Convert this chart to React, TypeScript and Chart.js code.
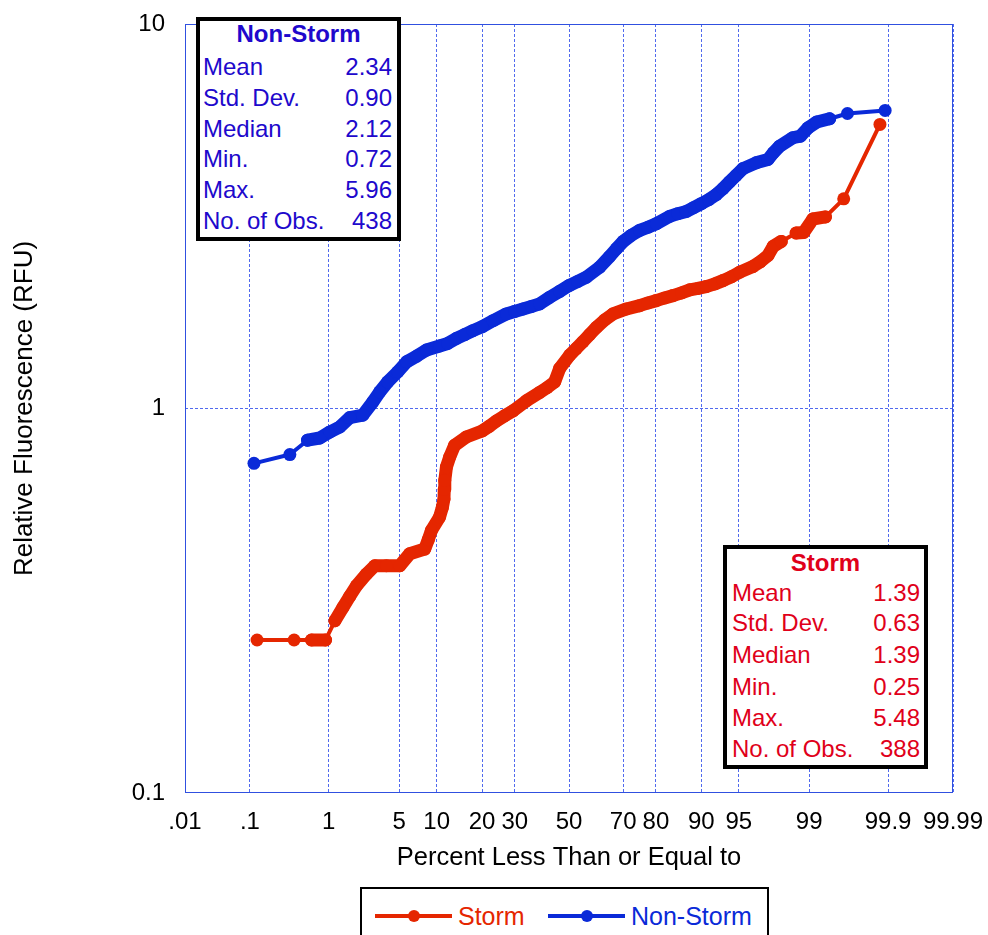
import React, { useEffect, useRef } from "react";
import { Chart, registerables } from "chart.js";

Chart.register(...registerables);

// ---------- data ----------
const X_TICK_PCTS = [0.01, 0.1, 1, 5, 10, 20, 30, 50, 70, 80, 90, 95, 99, 99.9, 99.99];
const X_TICK_LABELS = [".01", ".1", "1", "5", "10", "20", "30", "50", "70", "80", "90", "95", "99", "99.9", "99.99"];
const Y_TICKS = [0.1, 1, 10];
const Y_TICK_LABELS = ["0.1", "1", "10"];

const STORM_PCT = [0.126, 0.388, 0.632, 0.919, 1.17, 1.43, 1.69, 1.98, 2.49, 3.0, 3.85, 5.06, 6.15, 8.12, 8.65, 9.14, 10.5, 11.0, 11.3, 11.35, 11.45, 11.76, 12.4, 13.4, 16.0, 20.0, 22.0, 24.1, 26.7, 29.4, 34.0, 38.8, 41.6, 44.5, 46.4, 50.3, 52.8, 55.4, 57.9, 60.5, 63.5, 66.5, 71.1, 75.3, 77.8, 80.1, 82.3, 84.3, 86.2, 87.9, 89.4, 90.8, 92.1, 93.2, 94.2, 95.1, 96.25, 96.8, 97.3, 97.6, 98.01, 98.61, 98.85, 99.09, 99.35, 99.61, 99.87];
const STORM_VAL = [0.25, 0.25, 0.25, 0.25, 0.2805, 0.304, 0.325, 0.346, 0.371, 0.39, 0.39, 0.39, 0.419, 0.431, 0.456, 0.482, 0.522, 0.553, 0.582, 0.616, 0.65, 0.704, 0.748, 0.802, 0.843, 0.874, 0.899, 0.928, 0.958, 0.986, 1.047, 1.101, 1.133, 1.173, 1.271, 1.377, 1.432, 1.492, 1.557, 1.626, 1.699, 1.762, 1.815, 1.851, 1.882, 1.908, 1.939, 1.966, 1.998, 2.035, 2.053, 2.075, 2.109, 2.151, 2.2, 2.263, 2.34, 2.407, 2.5, 2.64, 2.72, 2.86, 2.87, 3.11, 3.15, 3.51, 5.48];

const NONSTORM_PCT = [0.114, 0.343, 0.567, 0.79, 1.03, 1.32, 1.69, 2.29, 2.87, 3.34, 3.96, 4.87, 5.81, 7.02, 8.38, 10.5, 12.0, 13.8, 15.6, 17.6, 20.0, 23.1, 27.2, 29.9, 32.8, 35.8, 38.8, 42.6, 46.4, 50.0, 53.4, 56.7, 61.7, 65.3, 67.7, 70.0, 72.7, 75.3, 77.8, 80.1, 83.5, 85.4, 87.2, 88.6, 90.0, 91.2, 92.3, 93.2, 94.0, 94.7, 95.4, 96.5, 97.3, 97.6, 97.93, 98.49, 98.75, 98.97, 99.18, 99.42, 99.65, 99.89];
const NONSTORM_VAL = [0.72, 0.759, 0.827, 0.838, 0.869, 0.895, 0.947, 0.961, 1.04, 1.105, 1.173, 1.246, 1.323, 1.369, 1.419, 1.454, 1.476, 1.522, 1.557, 1.594, 1.632, 1.692, 1.762, 1.788, 1.815, 1.843, 1.871, 1.947, 2.017, 2.088, 2.141, 2.196, 2.332, 2.485, 2.603, 2.719, 2.822, 2.905, 2.961, 3.024, 3.159, 3.211, 3.255, 3.329, 3.41, 3.493, 3.6, 3.731, 3.885, 4.034, 4.207, 4.354, 4.442, 4.618, 4.81, 5.06, 5.108, 5.37, 5.56, 5.67, 5.85, 5.96];

const STAT_LABELS = ["Mean", "Std. Dev.", "Median", "Min.", "Max.", "No. of Obs."];
const NONSTORM_STATS = ["2.34", "0.90", "2.12", "0.72", "5.96", "438"];
const STORM_STATS = ["1.39", "0.63", "1.39", "0.25", "5.48", "388"];

// ---------- styling ----------
const FONT = '"Liberation Sans", Arial, Helvetica, sans-serif';
const RED = "#e52600";
const BLUE = "#0a2ad8";
const RED_TEXT = "#e0001a";
const BLUE_TEXT = "#2008cc";
const GRID = "rgba(50,80,235,0.85)";
const FRAME = "#3050e0";
const CLEAR = "rgba(0,0,0,0)";

// inverse standard normal CDF (Acklam), percent -> z
function probit(pct: number): number {
  const p = pct / 100;
  const a = [-3.969683028665376e1, 2.209460984245205e2, -2.759285104469687e2, 1.38357751867269e2, -3.066479806614716e1, 2.506628277459239];
  const b = [-5.447609879822406e1, 1.615858368580409e2, -1.556989798598866e2, 6.680131188771972e1, -1.328068155288572e1];
  const c = [-7.784894002430293e-3, -3.223964580411365e-1, -2.400758277161838, -2.549732539343734, 4.374664141464968, 2.938163982698783];
  const d = [7.784695709041462e-3, 3.224671290700398e-1, 2.445134137142996, 3.754408661907416];
  const plow = 0.02425;
  if (p < plow) {
    const q = Math.sqrt(-2 * Math.log(p));
    return (((((c[0] * q + c[1]) * q + c[2]) * q + c[3]) * q + c[4]) * q + c[5]) / ((((d[0] * q + d[1]) * q + d[2]) * q + d[3]) * q + 1);
  }
  if (p > 1 - plow) {
    const q = Math.sqrt(-2 * Math.log(1 - p));
    return -(((((c[0] * q + c[1]) * q + c[2]) * q + c[3]) * q + c[4]) * q + c[5]) / ((((d[0] * q + d[1]) * q + d[2]) * q + d[3]) * q + 1);
  }
  const q = p - 0.5;
  const r = q * q;
  return ((((((a[0] * r + a[1]) * r + a[2]) * r + a[3]) * r + a[4]) * r + a[5]) * q) / (((((b[0] * r + b[1]) * r + b[2]) * r + b[3]) * r + b[4]) * r + 1);
}

const toPoints = (pcts: number[], vals: number[]) => pcts.map((p, i) => ({ x: probit(p), y: vals[i] }));

const segWidth = (ctx: any) => {
  const dx = ctx.p1.x - ctx.p0.x;
  const dy = ctx.p1.y - ctx.p0.y;
  return Math.sqrt(dx * dx + dy * dy) < 17 ? 13 : 4;
};

const zeroPadding = (s: any) => {
  s.paddingLeft = 0;
  s.paddingRight = 0;
  s.paddingTop = 0;
  s.paddingBottom = 0;
};

const framePlugin = {
  id: "frame",
  beforeDatasetsDraw(chart: any) {
    const { ctx, chartArea } = chart;
    ctx.save();
    ctx.strokeStyle = FRAME;
    ctx.lineWidth = 1;
    ctx.setLineDash([]);
    ctx.strokeRect(Math.round(chartArea.left) + 0.5, Math.round(chartArea.top) + 0.5, Math.round(chartArea.right - chartArea.left) - 1, Math.round(chartArea.bottom - chartArea.top) - 1);
    ctx.restore();
  },
};

function StatBox(props: { left: number; top: number; title: string; values: string[]; color: string; titleOffset: number; rowCenters: number[]; padL: number; padR: number }) {
  const { left, top, title, values, color, titleOffset, rowCenters, padL, padR } = props;
  return (
    <div
      style={{
        position: "absolute",
        left,
        top,
        width: 205,
        height: 224,
        boxSizing: "border-box",
        border: "4px solid #000",
        background: "#fff",
        fontFamily: FONT,
        fontSize: 24,
        color,
      }}
    >
      <div style={{ position: "absolute", left: 0, right: 0, top: titleOffset - 15, lineHeight: "30px", textAlign: "center", fontWeight: "bold" }}>{title}</div>
      {STAT_LABELS.map((lab, i) => (
        <div key={lab} style={{ position: "absolute", left: padL, right: padR, top: rowCenters[i] - 15, lineHeight: "30px", display: "flex", justifyContent: "space-between", whiteSpace: "nowrap" }}>
          <span>{lab}</span>
          <span>{values[i]}</span>
        </div>
      ))}
    </div>
  );
}

function LegendItem(props: { color: string; label: string; left: number }) {
  const { color, label, left } = props;
  return (
    <div style={{ position: "absolute", left, top: 0, height: 54, display: "flex", alignItems: "center" }}>
      <div style={{ position: "relative", width: 77, height: 4, background: color }}>
        <div style={{ position: "absolute", left: 33, top: -4, width: 12, height: 12, borderRadius: 6, background: color }} />
      </div>
      <span style={{ marginLeft: 6, fontFamily: FONT, fontSize: 25, color, whiteSpace: "nowrap" }}>{label}</span>
    </div>
  );
}

export default function App() {
  const canvasRef = useRef<HTMLCanvasElement | null>(null);

  useEffect(() => {
    const canvas = canvasRef.current;
    if (!canvas) return;
    const tickFont = { family: FONT, size: 24 };
    const chart = new Chart(canvas, {
      type: "line",
      data: {
        datasets: [
          {
            label: "Storm",
            data: toPoints(STORM_PCT, STORM_VAL),
            borderColor: RED,
            backgroundColor: RED,
            pointBackgroundColor: RED,
            pointBorderWidth: 0,
            pointRadius: 6.5,
            borderWidth: 4,
            borderCapStyle: "round",
            borderJoinStyle: "round",
            segment: { borderWidth: segWidth },
          },
          {
            label: "Non-Storm",
            data: toPoints(NONSTORM_PCT, NONSTORM_VAL),
            borderColor: BLUE,
            backgroundColor: BLUE,
            pointBackgroundColor: BLUE,
            pointBorderWidth: 0,
            pointRadius: 6.5,
            borderWidth: 4,
            borderCapStyle: "round",
            borderJoinStyle: "round",
            segment: { borderWidth: segWidth },
          },
        ],
      },
      options: {
        animation: false,
        responsive: false,
        layout: { padding: { top: 24, right: 35, left: 0, bottom: 0 } },
        plugins: { legend: { display: false }, tooltip: { enabled: false } },
        scales: {
          x: {
            type: "linear",
            min: probit(X_TICK_PCTS[0]),
            max: probit(X_TICK_PCTS[X_TICK_PCTS.length - 1]),
            afterBuildTicks: (s: any) => {
              s.ticks = X_TICK_PCTS.map((p) => ({ value: probit(p) }));
            },
            afterFit: (s: any) => {
              s.height = 142;
              zeroPadding(s);
            },
            ticks: {
              autoSkip: false,
              maxRotation: 0,
              minRotation: 0,
              padding: 0,
              font: tickFont,
              color: "#000",
              callback: (_v: any, i: number) => X_TICK_LABELS[i],
            },
            grid: { color: GRID, lineWidth: 1, drawTicks: true, tickLength: 15, tickColor: CLEAR },
            border: { display: false, dash: [3, 2] },
            title: {
              display: true,
              text: "Percent Less Than or Equal to",
              font: { family: FONT, size: 25.5 },
              color: "#000",
              padding: { top: 0, bottom: 62 },
            },
          },
          y: {
            type: "logarithmic",
            min: 0.1,
            max: 10,
            afterBuildTicks: (s: any) => {
              s.ticks = Y_TICKS.map((v) => ({ value: v }));
            },
            afterFit: (s: any) => {
              s.width = 185;
              zeroPadding(s);
            },
            ticks: {
              padding: 0,
              font: tickFont,
              color: "#000",
              callback: (v: any) => Y_TICK_LABELS[Y_TICKS.indexOf(Number(v))] ?? "",
            },
            grid: {
              color: (ctx: any) => (ctx.tick && ctx.tick.value === 1 ? GRID : CLEAR),
              lineWidth: 1,
              drawTicks: true,
              tickLength: 20,
              tickColor: CLEAR,
            },
            border: { display: false, dash: [3, 2] },
            title: {
              display: true,
              text: "Relative Fluorescence (RFU)",
              font: { family: FONT, size: 26 },
              color: "#000",
              padding: { top: 9, bottom: 0 },
            },
          },
        },
      } as any,
      plugins: [framePlugin],
    });
    return () => chart.destroy();
  }, []);

  return (
    <div style={{ position: "absolute", left: 0, top: 0, width: 988, height: 935, overflow: "hidden", background: "#fff" }}>
      <canvas ref={canvasRef} width={988} height={935} style={{ position: "absolute", left: 0, top: 0, width: 988, height: 935 }} />
      <StatBox left={196} top={17} title="Non-Storm" values={NONSTORM_STATS} color={BLUE_TEXT} titleOffset={13} rowCenters={[46, 77, 108, 138, 169, 200]} padL={3} padR={5} />
      <StatBox left={723} top={545} title="Storm" values={STORM_STATS} color={RED_TEXT} titleOffset={14} rowCenters={[44, 74, 106, 138, 169, 200]} padL={5} padR={4} />
      <div style={{ position: "absolute", left: 360, top: 887, width: 409, height: 80, boxSizing: "border-box", border: "2px solid #000", background: "#fff" }}>
        <LegendItem color={RED} label="Storm" left={13} />
        <LegendItem color={BLUE} label="Non-Storm" left={186} />
      </div>
    </div>
  );
}
